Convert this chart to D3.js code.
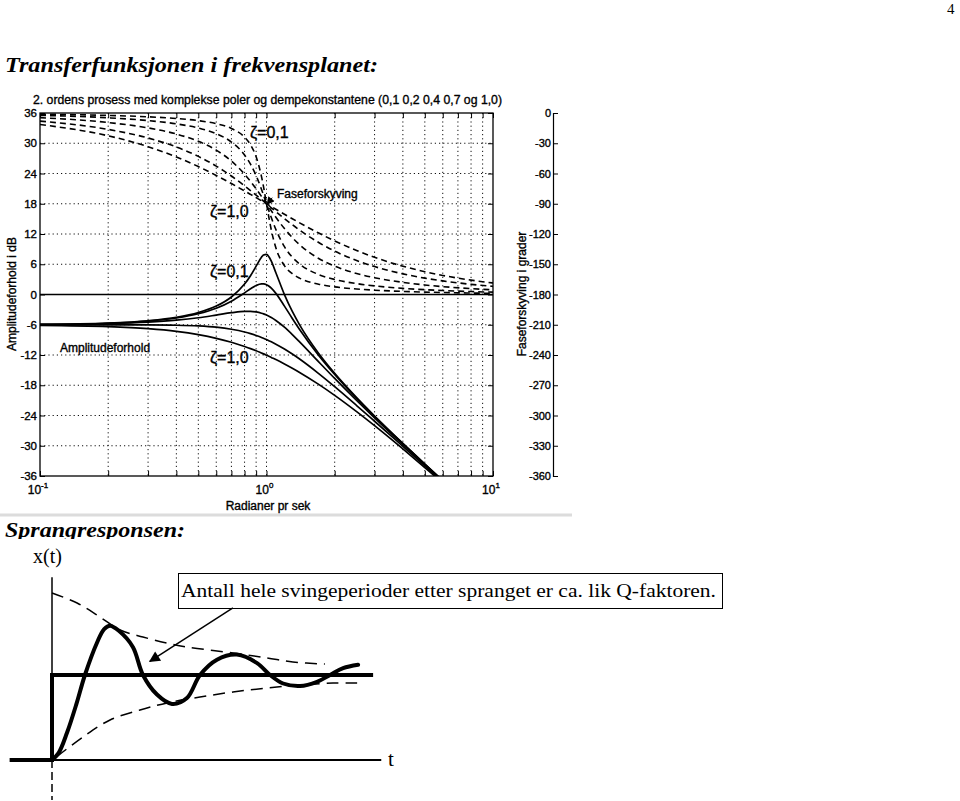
<!DOCTYPE html>
<html><head><meta charset="utf-8">
<script src="https://cdn.jsdelivr.net/npm/d3@7"></script>
<style>body{margin:0;background:#fff} .sb{stroke:#000;stroke-width:0.35px}</style>
</head><body>
<script>
// ---------- DATA ----------
const freqs = [0.1,0.2,0.3,0.4,0.5,0.6,0.7,0.8,0.85,0.9,0.95,0.97,1.0,1.03,1.05,1.1,1.2,1.3,1.4,1.7,2,2.5,3,4,5,6,8,10];
const zetas = ["0,1","0,2","0,4","0,7","1,0"];
const ampZ01 = [-5.93,-5.67,-5.22,-4.55,-3.60,-2.30,-0.49,2.07,3.73,5.62,7.39,7.84,7.96,7.34,6.61,4.32,-0.02,-3.37,-6.02,-11.69,-15.64,-20.46,-24.11,-29.55,-33.63,-36.91,-42.0,-45.9];
const ampZ02 = [-5.94,-5.70,-5.28,-4.66,-3.82,-2.72,-1.32,0.33,1.13,1.79,2.11,2.10,1.94,1.59,1.26,0.22,-2.30,-4.75,-6.94,-12.08,-15.86,-20.58,-24.18,-29.59,-33.66,-36.92,-42.0,-45.9];
const ampZ04 = [-5.96,-5.78,-5.49,-5.09,-4.61,-4.08,-3.61,-3.34,-3.34,-3.46,-3.71,-3.84,-4.08,-4.36,-4.57,-5.15,-6.49,-7.95,-9.40,-13.36,-16.65,-21.01,-24.46,-29.74,-33.74,-36.98,-42.0,-46.0];
const ampZ07 = [-6.02,-6.02,-6.04,-6.10,-6.24,-6.49,-6.89,-7.43,-7.76,-8.13,-8.52,-8.69,-8.94,-9.21,-9.39,-9.85,-10.81,-11.81,-12.80,-15.68,-18.28,-22.02,-25.14,-30.11,-33.98,-37.15,-42.1,-46.0];
const ampZ10 = [-6.11,-6.36,-6.77,-7.31,-7.96,-8.69,-9.48,-10.32,-10.74,-11.17,-11.61,-11.78,-12.04,-12.30,-12.48,-12.91,-13.77,-14.62,-15.45,-17.82,-20.00,-23.23,-26.02,-30.63,-34.32,-37.38,-42.3,-46.1];
const phZ01 = [-1.16,-2.39,-3.77,-5.44,-7.59,-10.62,-15.35,-23.96,-31.49,-43.45,-62.84,-73.06,-90,-106.47,-116.02,-133.67,-151.39,-159.35,-163.74,-169.80,-172.41,-174.56,-175.71,-176.95,-177.61,-178.04,-178.55,-178.84];
const phZ02 = [-2.31,-4.76,-7.51,-10.78,-14.93,-20.56,-28.77,-41.63,-50.78,-62.18,-75.61,-81.34,-90,-98.41,-103.71,-115.51,-132.51,-143.00,-149.74,-160.21,-165.07,-169.22,-171.47,-173.91,-175.24,-176.08,-177.09,-177.69];
const phZ04 = [-4.62,-9.46,-14.77,-20.85,-28.07,-36.87,-47.68,-60.64,-67.80,-75.22,-82.69,-85.64,-90,-94.23,-96.96,-103.42,-114.62,-123.57,-130.60,-144.26,-151.93,-159.15,-163.30,-167.96,-170.54,-172.19,-174.20,-175.38];
const phZ07 = [-8.05,-16.26,-24.78,-33.69,-43.03,-52.70,-62.51,-72.18,-76.87,-81.42,-85.81,-87.51,-90,-92.42,-93.99,-97.77,-104.68,-110.76,-116.10,-128.45,-136.97,-146.31,-152.30,-159.53,-163.74,-166.50,-169.92,-171.95];
const phZ10 = [-11.42,-22.62,-33.40,-43.60,-53.13,-61.93,-69.99,-77.32,-80.73,-83.97,-87.06,-88.26,-90,-91.69,-92.79,-95.45,-100.39,-104.86,-108.92,-119.07,-126.87,-136.40,-143.13,-151.93,-157.38,-161.08,-165.75,-168.58];
const ampTicks = [36,30,24,18,12,6,0,-6,-12,-18,-24,-30,-36];
const phaseTicks = [0,-30,-60,-90,-120,-150,-180,-210,-240,-270,-300,-330,-360];
const freqMajor = [0.1,1,10];
const freqExp = ["-1","0","1"];
const freqMinor = [0.2,0.3,0.4,0.5,0.6,0.7,0.8,0.9,2,3,4,5,6,7,8,9];

// step response (sketch)
const respT = [0,0.2,0.46,0.75,1.01,1.38,1.6,1.78,2.05,2.48,2.79,3.22,3.68,4.14,4.54,5.06,5.67,6.29,6.69,7.09,7.61,8.13,8.53,8.93,9.39];
const respX = [0,0.08,0.32,0.66,1.0,1.38,1.54,1.58,1.52,1.33,1.0,0.77,0.66,0.73,1.0,1.18,1.24,1.14,1.0,0.9,0.87,0.92,1.0,1.08,1.12];
const upperT = [0,0.77,1.47,2.09,2.79,3.53,4.14,5.55,6.60,7.39,8.37];
const upperX = [1.965,1.847,1.682,1.529,1.447,1.376,1.329,1.259,1.200,1.153,1.129];
const lowerT = [0.15,0.95,1.78,2.70,3.53,4.54,5.55,6.60,7.61,8.62,9.36];
const lowerX = [0.04,0.271,0.471,0.588,0.671,0.741,0.8,0.847,0.882,0.906,0.906];
const stepT = [-1.3,0,0,9.85];
const stepX = [0,0,1,1];

// ---------- DRAW ----------
const sans = "'Liberation Sans', Arial, Helvetica, sans-serif";
const serif = "'Liberation Serif', 'Times New Roman', serif";
const svg = d3.select("body").append("svg").attr("width",960).attr("height",801);

svg.append("text").attr("x",947).attr("y",14).attr("font-family",serif).attr("font-size",15).text("4");
svg.append("text").attr("x",5).attr("y",72).attr("font-family",serif).attr("font-style","italic")
  .attr("font-weight","bold").attr("font-size",21).attr("textLength",373).attr("lengthAdjust","spacingAndGlyphs")
  .text("Transferfunksjonen i frekvensplanet:");

// scan edge
svg.append("line").attr("x1",0).attr("x2",572).attr("y1",515).attr("y2",515).attr("stroke","#dcdcdc").attr("stroke-width",3);

const x = d3.scaleLog().domain([0.1,10]).range([40,493]);
const yA = d3.scaleLinear().domain([-36,36]).range([476,113]);
const yP = d3.scaleLinear().domain([-360,0]).range([476,113]);

const defs = svg.append("defs");
defs.append("clipPath").attr("id","plotclip").append("rect").attr("x",40).attr("y",113).attr("width",453).attr("height",363);
defs.append("clipPath").attr("id","headclip").append("rect").attr("x",0).attr("y",500).attr("width",400).attr("height",39);
defs.append("marker").attr("id","ah").attr("viewBox","0 0 10 10").attr("refX",9).attr("refY",5)
  .attr("markerWidth",10).attr("markerHeight",8).attr("markerUnits","userSpaceOnUse").attr("orient","auto")
  .append("path").attr("d","M0,0L10,5L0,10z").attr("fill","#000");
defs.append("marker").attr("id","ah2").attr("viewBox","0 0 10 10").attr("refX",9).attr("refY",5)
  .attr("markerWidth",16).attr("markerHeight",11).attr("markerUnits","userSpaceOnUse").attr("orient","auto")
  .append("path").attr("d","M0,0L10,5L0,10z").attr("fill","#000");

// title
svg.append("text").attr("class","sb").attr("x",33).attr("y",104).attr("font-family",sans).attr("font-size",12.5)
  .attr("textLength",469).attr("lengthAdjust","spacingAndGlyphs")
  .text("2. ordens prosess med komplekse poler og dempekonstantene (0,1 0,2 0,4 0,7 og 1,0)");

// grid
const grid = svg.append("g").attr("stroke","#111").attr("stroke-width",1).attr("stroke-dasharray","1.2,3");
ampTicks.filter(d=>d!==0 && Math.abs(d)!==36).forEach(d=>{
  grid.append("line").attr("x1",40).attr("x2",493).attr("y1",yA(d)).attr("y2",yA(d));
});
freqMinor.concat([1]).forEach(d=>{
  grid.append("line").attr("x1",x(d)).attr("x2",x(d)).attr("y1",113).attr("y2",476);
});

// axes
const axL = svg.append("g").attr("transform","translate(40,0)")
  .call(d3.axisLeft(yA).tickValues(ampTicks).tickSizeInner(-5).tickSizeOuter(0).tickPadding(3).tickFormat(d=>String(d)));
const axR = svg.append("g").attr("transform","translate(493,0)")
  .call(d3.axisRight(yA).tickValues(ampTicks).tickSizeInner(-5).tickSizeOuter(0).tickFormat(""));
const axB = svg.append("g").attr("transform","translate(0,476)")
  .call(d3.axisBottom(x).tickValues(freqMajor.concat(freqMinor)).tickSizeInner(-5).tickSizeOuter(0).tickFormat(""));
const axT = svg.append("g").attr("transform","translate(0,113)")
  .call(d3.axisTop(x).tickValues(freqMajor.concat(freqMinor)).tickSizeInner(-5).tickSizeOuter(0).tickFormat(""));
[axL,axR,axB,axT].forEach(g=>{
  g.select(".domain").remove();
  g.selectAll("text").attr("font-family",sans).attr("font-size",11.5).attr("fill","#000").attr("class","sb");
  g.selectAll("line").attr("stroke","#000");
});
freqMajor.forEach((d,i)=>{
  const t = svg.append("text").attr("class","sb").attr("x",x(d)-2).attr("y",494).attr("font-family",sans).attr("font-size",12).attr("text-anchor","middle");
  t.append("tspan").text("10");
  t.append("tspan").attr("dy",-6).attr("font-size",8).text(freqExp[i]);
});
svg.append("text").attr("class","sb").attr("x",268).attr("y",510).attr("font-family",sans).attr("font-size",12).attr("text-anchor","middle").text("Radianer pr sek");
svg.append("text").attr("class","sb").attr("transform","translate(16,294) rotate(-90)").attr("font-family",sans).attr("font-size",12)
  .attr("text-anchor","middle").text("Amplitudeforhold i dB");

// phase axis
const axP = svg.append("g").attr("transform","translate(553,0)")
  .call(d3.axisLeft(yP).tickValues(phaseTicks).tickSizeInner(-5).tickSizeOuter(-5).tickPadding(2).tickFormat(d=>String(d)));
axP.selectAll("text").attr("font-family",sans).attr("font-size",11).attr("fill","#000").attr("class","sb");
axP.select(".domain").attr("stroke","#000").attr("stroke-width",1.2);
svg.append("text").attr("class","sb").attr("transform","translate(526,294) rotate(-90)").attr("font-family",sans).attr("font-size",12)
  .attr("text-anchor","middle").text("Faseforskyving i grader");

// frame & 0 dB line
svg.append("rect").attr("x",40).attr("y",113).attr("width",453).attr("height",363).attr("fill","none").attr("stroke","#000").attr("stroke-width",1.3);
svg.append("line").attr("x1",40).attr("x2",493).attr("y1",yA(0)).attr("y2",yA(0)).attr("stroke","#000").attr("stroke-width",1.4);

// curves
const amps = [ampZ01,ampZ02,ampZ04,ampZ07,ampZ10];
const phases = [phZ01,phZ02,phZ04,phZ07,phZ10];
const lineA = d3.line().x(d=>x(d[0])).y(d=>yA(d[1])).curve(d3.curveMonotoneX);
const lineP = d3.line().x(d=>x(d[0])).y(d=>yP(d[1])).curve(d3.curveMonotoneX);
const cg = svg.append("g").attr("clip-path","url(#plotclip)");
phases.forEach(p=>{
  cg.append("path").attr("d",lineP(freqs.map((f,i)=>[f,p[i]]))).attr("fill","none").attr("stroke","#000")
    .attr("stroke-width",1.6).attr("stroke-dasharray","6,4");
});
amps.forEach(a=>{
  cg.append("path").attr("d",lineA(freqs.map((f,i)=>[f,a[i]]))).attr("fill","none").attr("stroke","#000").attr("stroke-width",1.7);
});

// annotations
const ann = svg.append("g").attr("font-family",sans).attr("fill","#000");
ann.append("text").attr("class","sb").attr("x",250).attr("y",138).attr("font-size",16).text("ζ="+zetas[0]);
ann.append("text").attr("class","sb").attr("x",210).attr("y",217).attr("font-size",16).text("ζ="+zetas[4]);
ann.append("text").attr("class","sb").attr("x",210).attr("y",277).attr("font-size",16).text("ζ="+zetas[0]);
ann.append("text").attr("class","sb").attr("x",210).attr("y",363).attr("font-size",16).text("ζ="+zetas[4]);
ann.append("text").attr("class","sb").attr("x",277).attr("y",198).attr("font-size",12).text("Faseforskyving");
ann.append("text").attr("class","sb").attr("x",60).attr("y",352).attr("font-size",12).text("Amplitudeforhold");
svg.append("line").attr("x1",x(1.06)).attr("y1",yP(-84)).attr("x2",x(1.005)).attr("y2",yP(-90.5))
  .attr("stroke","#000").attr("stroke-width",1).attr("marker-end","url(#ah)");

// ---------- STEP RESPONSE ----------
svg.append("text").attr("clip-path","url(#headclip)").attr("x",5).attr("y",537).attr("font-family",serif).attr("font-style","italic")
  .attr("font-weight","bold").attr("font-size",21).attr("textLength",180).attr("lengthAdjust","spacingAndGlyphs")
  .text("Sprangresponsen:");
svg.append("text").attr("x",33).attr("y",563).attr("font-family",serif).attr("font-size",20).text("x(t)");

const xs = d3.scaleLinear().domain([0,10]).range([52,378]);
const ys = d3.scaleLinear().domain([0,1]).range([760,675]);
const lin = d3.line().x(d=>xs(d[0])).y(d=>ys(d[1]));
const smooth = d3.line().x(d=>xs(d[0])).y(d=>ys(d[1])).curve(d3.curveCatmullRom);

// axes
svg.append("path").attr("d",lin([[0,2.15],[0,0]])).attr("stroke","#000").attr("stroke-width",1.5).attr("fill","none");
svg.append("path").attr("d",lin([[0,0],[0,-0.47]])).attr("stroke","#000").attr("stroke-width",1.5).attr("stroke-dasharray","8,4").attr("fill","none");
svg.append("path").attr("d",lin([[0,0],[10.1,0]])).attr("stroke","#000").attr("stroke-width",2).attr("fill","none");
svg.append("text").attr("x",388).attr("y",766).attr("font-family",serif).attr("font-size",21).text("t");

// envelopes
svg.append("path").attr("d",smooth(upperT.map((t,i)=>[t,upperX[i]]))).attr("fill","none").attr("stroke","#000").attr("stroke-width",1.5).attr("stroke-dasharray","12,7");
svg.append("path").attr("d",smooth(lowerT.map((t,i)=>[t,lowerX[i]]))).attr("fill","none").attr("stroke","#000").attr("stroke-width",1.5).attr("stroke-dasharray","12,7");
// step
svg.append("path").attr("d",lin(stepT.map((t,i)=>[t,stepX[i]]))).attr("fill","none").attr("stroke","#000").attr("stroke-width",4);
// response
svg.append("path").attr("d",smooth(respT.map((t,i)=>[t,respX[i]]))).attr("fill","none").attr("stroke","#000").attr("stroke-width",4).attr("stroke-linecap","round");

// callout
svg.append("rect").attr("x",178.5).attr("y",573.5).attr("width",544).attr("height",35).attr("fill","#fff").attr("stroke","#000").attr("stroke-width",1);
svg.append("text").attr("x",181).attr("y",597).attr("font-family",serif).attr("font-size",18)
  .attr("textLength",535).attr("lengthAdjust","spacingAndGlyphs")
  .text("Antall hele svingeperioder etter spranget er ca. lik Q-faktoren.");
svg.append("line").attr("x1",xs(5.55)).attr("y1",ys(1.79)).attr("x2",xs(3.0)).attr("y2",ys(1.16))
  .attr("stroke","#000").attr("stroke-width",1.5).attr("marker-end","url(#ah2)");
</script>
</body></html>
